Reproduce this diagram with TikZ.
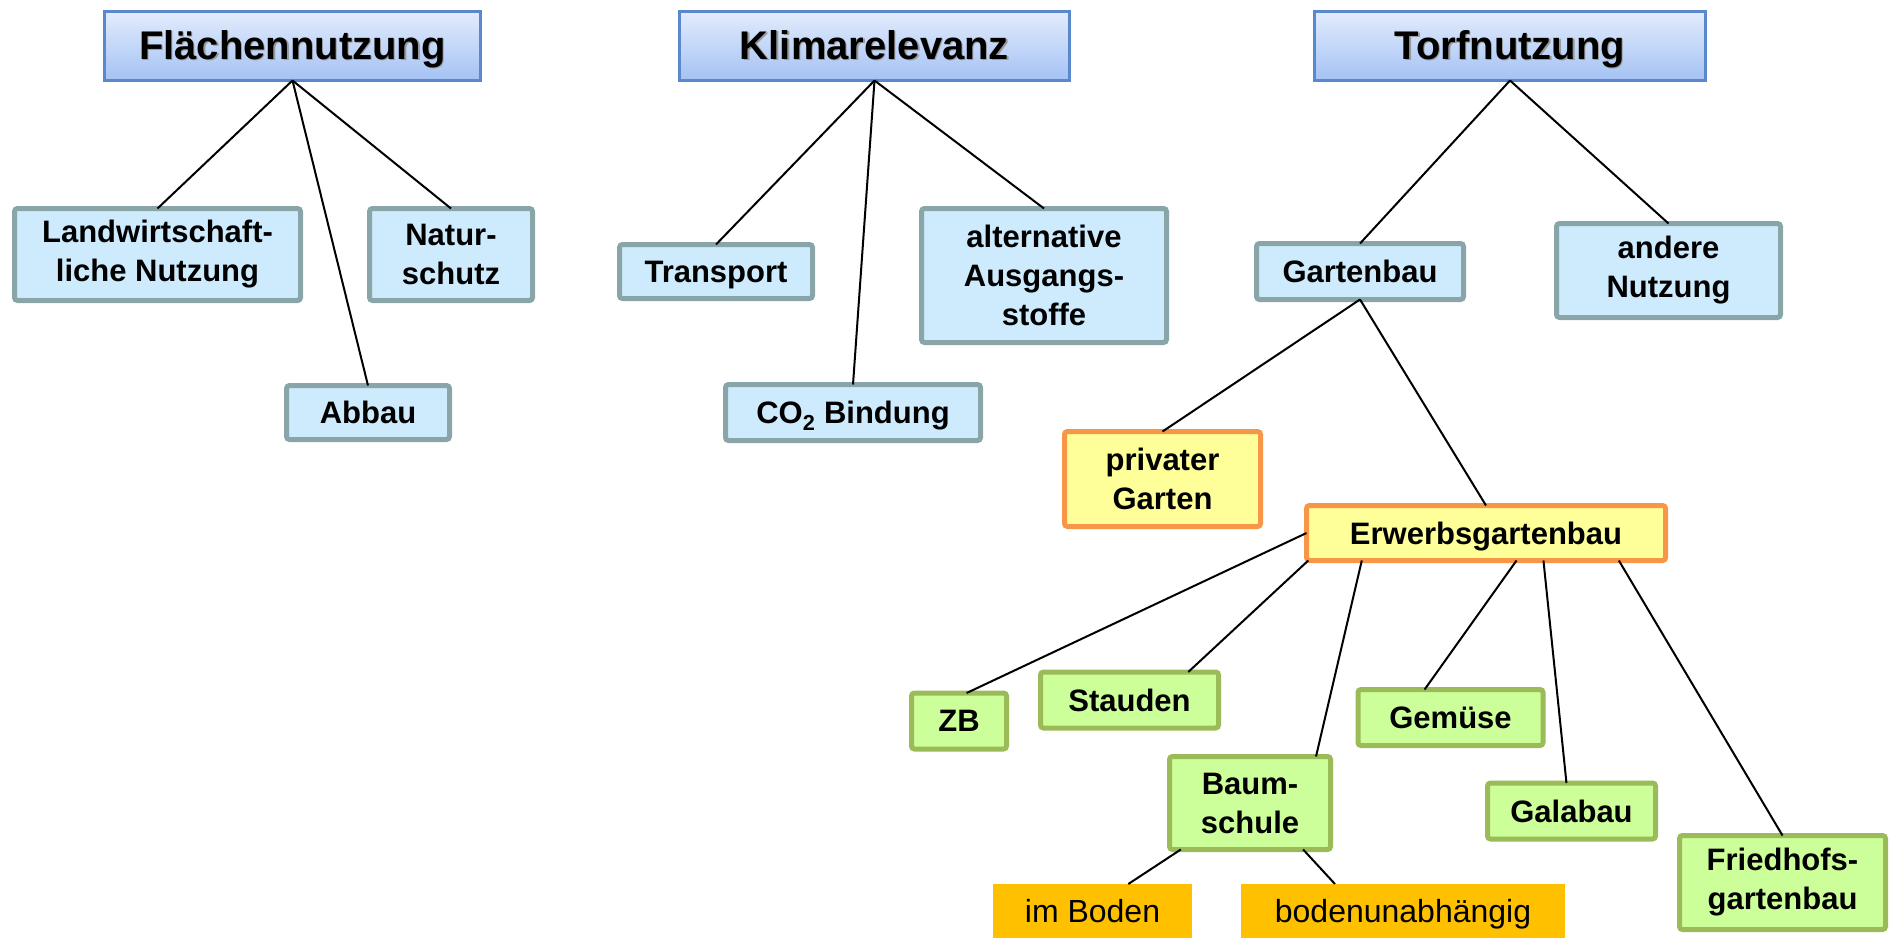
\documentclass[tikz,border=0pt]{standalone}
\usepackage{fontspec}
\setmainfont{Liberation Sans}
\usetikzlibrary{calc}
\definecolor{hdrtop}{HTML}{E2ECFC}
\definecolor{hdrbot}{HTML}{A4C2F4}
\definecolor{hdrline}{HTML}{5A88CC}
\definecolor{lbfill}{HTML}{CDEBFD}
\definecolor{lbline}{HTML}{8AA5A7}
\definecolor{yefill}{HTML}{FFFF99}
\definecolor{yeline}{HTML}{F79646}
\definecolor{grfill}{HTML}{CCFF99}
\definecolor{grline}{HTML}{9BBB59}
\definecolor{orfill}{HTML}{FFC000}
\newcommand\hdrtxt[1]{\makebox[0pt][l]{\hspace{1.2pt}\raisebox{-1.2pt}{\color{black!40}#1}}#1}
\tikzset{
  hdr/.style={draw=hdrline, line width=3pt, top color=hdrtop, bottom color=hdrbot,
    inner sep=0pt, outer sep=0pt, text height=26pt, text depth=0pt,
    font=\fontsize{40}{44}\selectfont\bfseries},
  basebox/.style={line width=5pt, rounded corners=3pt, inner sep=0pt, outer sep=0pt,
    align=center, font=\fontsize{31}{39}\selectfont\bfseries},
  oneline/.style={text depth=0pt},
  lbbox/.style={basebox, draw=lbline, fill=lbfill},
  yebox/.style={basebox, draw=yeline, fill=yefill},
  grbox/.style={basebox, draw=grline, fill=grfill},
  orbox/.style={fill=orfill, inner sep=0pt, outer sep=0pt, text depth=0pt,
    font=\fontsize{32}{36}\selectfont},
  conn/.style={draw=black, line width=2pt},
}
\begin{document}
\begin{tikzpicture}[x=1pt,y=-1pt]
\useasboundingbox (0,0) rectangle (1898,938);
% headers
\node[hdr, minimum width=376, minimum height=69] (flaech) at (292.5,46) {\hdrtxt{Flächennutzung}};
\node[hdr, minimum width=390, minimum height=69] (klima) at (874.5,46) {\hdrtxt{Klimarelevanz}};
\node[hdr, minimum width=391, minimum height=69] (torf) at (1510,46) {\hdrtxt{Torfnutzung}};
% light blue
\node[lbbox, minimum width=286, minimum height=92] (landw) at (157.5,254.5) {Landwirtschaft-\\liche Nutzung};
\node[lbbox, minimum width=163, minimum height=92] (natur) at (451,254.5) {Natur-\\schutz};
\node[lbbox, oneline, minimum width=163, minimum height=54] (abbau) at (368,412.5) {Abbau};
\node[lbbox, oneline, minimum width=193, minimum height=54] (transp) at (716,271.5) {Transport};
\node[lbbox, oneline, minimum width=255, minimum height=56] (co2) at (853,412.5) {CO\textsubscript{2} Bindung};
\node[lbbox, minimum width=245, minimum height=134] (altern) at (1044,275.5) {alternative\\Ausgangs-\\stoffe};
\node[lbbox, oneline, minimum width=207, minimum height=56] (garten) at (1360,271.5) {Gartenbau};
\node[lbbox, minimum width=224, minimum height=94] (andere) at (1668.5,270.5) {andere\\Nutzung};
% yellow
\node[yebox, minimum width=196, minimum height=95] (privat) at (1162.5,479) {privater\\Garten};
\node[yebox, oneline, minimum width=359, minimum height=55] (erwerb) at (1486,533) {Erwerbsgartenbau};
% green
\node[grbox, oneline, minimum width=95, minimum height=56] (zb) at (959,721) {ZB};
\node[grbox, oneline, minimum width=178, minimum height=56] (stauden) at (1129.5,700) {Stauden};
\node[grbox, minimum width=161, minimum height=93] (baum) at (1250,803) {Baum-\\schule};
\node[grbox, oneline, minimum width=185, minimum height=56] (gemuese) at (1450.5,717.5) {Gemüse};
\node[grbox, oneline, minimum width=168, minimum height=56] (galabau) at (1571.5,811) {Galabau};
\node[grbox, minimum width=206, minimum height=94] (friedhof) at (1782.5,882.5) {Friedhofs-\\gartenbau};
% orange
\node[orbox, minimum width=199, minimum height=54] (boden) at (1092.5,911) {im Boden};
\node[orbox, minimum width=324, minimum height=54] (bodenun) at (1403,911) {bodenunabhängig};
% connectors
\draw[conn] (flaech.south) -- (landw.north);
\draw[conn] (flaech.south) -- (abbau.north);
\draw[conn] (flaech.south) -- (natur.north);
\draw[conn] (klima.south) -- (transp.north);
\draw[conn] (klima.south) -- (co2.north);
\draw[conn] (klima.south) -- (altern.north);
\draw[conn] (torf.south) -- (garten.north);
\draw[conn] (torf.south) -- (andere.north);
\draw[conn] (garten.south) -- (privat.north);
\draw[conn] (garten.south) -- (erwerb.north);
\draw[conn] (erwerb.west) -- ($(zb.north west)!0.58!(zb.north east)$);
\draw[conn] ($(erwerb.south west)!0.005!(erwerb.south east)$) -- ($(stauden.north west)!0.83!(stauden.north east)$);
\draw[conn] ($(erwerb.south west)!0.154!(erwerb.south east)$) -- ($(baum.north west)!0.91!(baum.north east)$);
\draw[conn] ($(erwerb.south west)!0.585!(erwerb.south east)$) -- ($(gemuese.north west)!0.36!(gemuese.north east)$);
\draw[conn] ($(erwerb.south west)!0.66!(erwerb.south east)$) -- ($(galabau.north west)!0.47!(galabau.north east)$);
\draw[conn] ($(erwerb.south west)!0.87!(erwerb.south east)$) -- (friedhof.north);
\draw[conn] ($(baum.south west)!0.07!(baum.south east)$) -- ($(boden.north west)!0.68!(boden.north east)$);
\draw[conn] ($(baum.south west)!0.83!(baum.south east)$) -- ($(bodenun.north west)!0.29!(bodenun.north east)$);
\end{tikzpicture}
\end{document}
